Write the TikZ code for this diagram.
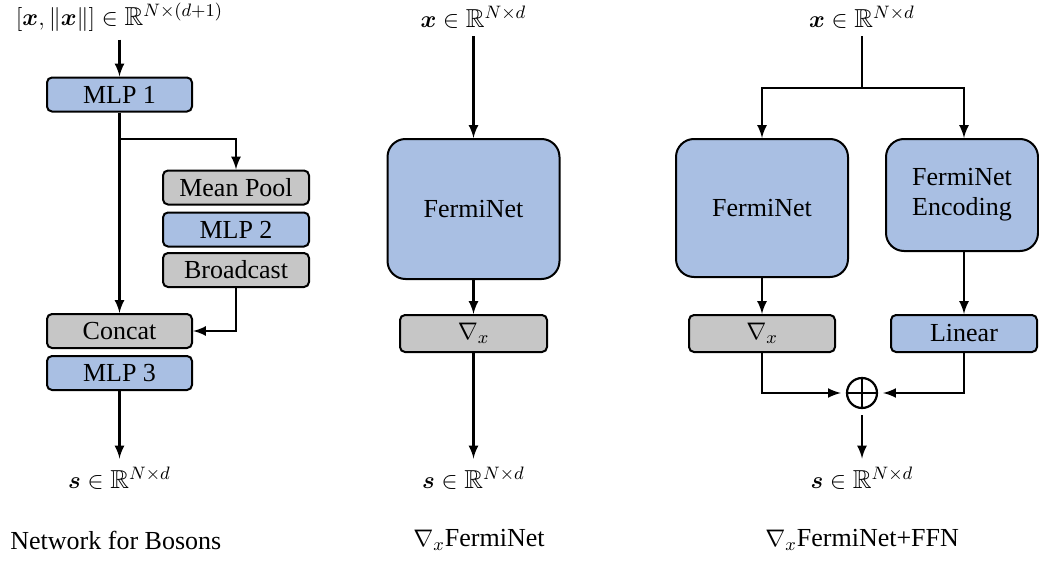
\documentclass[tikz,border=0pt]{standalone}
\usepackage{amsmath}
\usepackage{amssymb}
\usepackage{fontspec}
\setmainfont{LiberationSerif}[Extension=.ttf, UprightFont=*-Regular, BoldFont=*-Bold, ItalicFont=*-Italic, BoldItalicFont=*-BoldItalic]
\usepackage{xcolor}
\usepackage{tikz}
\usetikzlibrary{calc,positioning,arrows}

\definecolor{netblue}{HTML}{A9BFE3}
\definecolor{opgray}{HTML}{C6C6C6}

\begin{document}
\begin{tikzpicture}[x=0.5pt,y=-0.5pt,font=\rmfamily\fontsize{13}{15}\selectfont]

\useasboundingbox (0,0) rectangle (1039,562);

\tikzstyle{mybox} = [draw=black, line width=1pt, rectangle, rounded corners=2.5pt, minimum height=17pt, minimum width=72.5pt, inner sep=0pt]
\tikzstyle{bigbox} = [mybox, rounded corners=9pt, minimum width=86pt, minimum height=70pt, fill=netblue, align=center]
\tikzstyle{myarrow} = [-latex, line width=1.2pt]
\tikzstyle{myline} = [line width=1.2pt]

% left: network for bosons
\node (in1) [inner sep=4pt] at (119.5,17) {$[\boldsymbol{x},\|\boldsymbol{x}\|]\in\mathbb{R}^{N\times(d+1)}$};
\node (mlp1) [mybox,fill=netblue] at (119.5,94.5) {MLP 1};
\node (pool) [mybox,fill=opgray,minimum width=73pt] at (236,187.5) {Mean Pool};
\node (mlp2) [mybox,fill=netblue,minimum width=73pt] at (236,229.5) {MLP 2};
\node (bcast) [mybox,fill=opgray,minimum width=73pt] at (236,270) {Broadcast};
\node (concat) [mybox,fill=opgray] at (119.5,331) {Concat};
\node (mlp3) [mybox,fill=netblue] at (119.5,373) {MLP 3};
\node (out1) [inner sep=4pt] at (119.5,478) {$\boldsymbol{s}\in\mathbb{R}^{N\times d}$};
\coordinate (split1) at (119.5,139);

\draw [myarrow] (in1.south) -- (mlp1.north);
\draw [myarrow] (mlp1.south) -- (concat.north);
\draw [myarrow] (split1) -| (pool.north);
\draw [myarrow] (bcast.south) |- (concat.east);
\draw [myarrow] (mlp3.south) -- (out1.north);

% middle: grad FermiNet
\node (in2) [inner sep=4pt] at (473.5,17) {$\boldsymbol{x}\in\mathbb{R}^{N\times d}$};
\node (fermi1) [bigbox] at (473.5,209) {FermiNet};
\node (grad1) [mybox,fill=opgray,minimum width=73.5pt,minimum height=18.5pt] at (473.5,333.5) {$\nabla_x$};
\node (out2) [inner sep=4pt] at (473.5,478) {$\boldsymbol{s}\in\mathbb{R}^{N\times d}$};

\draw [myarrow] (in2.south) -- (fermi1.north);
\draw [myarrow] (fermi1.south) -- (grad1.north);
\draw [myarrow] (grad1.south) -- (out2.north);

% right: grad FermiNet + FFN
\node (in3) [inner sep=4pt] at (862,17) {$\boldsymbol{x}\in\mathbb{R}^{N\times d}$};
\coordinate (split3) at (862,88);
\node (fermi2) [bigbox,minimum height=69pt] at (762,208) {FermiNet};
\node (enc) [bigbox,minimum width=76pt,minimum height=56pt] at (962,195) {FermiNet\\Encoding};
\node (grad2) [mybox,fill=opgray,minimum width=73pt,minimum height=18.5pt] at (762,333.5) {$\nabla_x$};
\node (linear) [mybox,fill=netblue,minimum width=73pt,minimum height=18.5pt] at (964,333.5) {Linear};
\node (plus) [draw,circle,line width=1.1pt,minimum size=15pt,inner sep=0pt] at (862,393) {};
\draw [line width=1.1pt] (plus.north) -- (plus.south);
\draw [line width=1.1pt] (plus.west) -- (plus.east);
\node (out3) [inner sep=4pt] at (862,478) {$\boldsymbol{s}\in\mathbb{R}^{N\times d}$};

\draw [myline] (in3.south) -- (split3);
\draw [myarrow] (split3) -| (fermi2.north);
\draw [myarrow] (split3) -| (enc.north -| linear.north);
\draw [myarrow] (fermi2.south) -- (grad2.north);
\draw [myarrow] (enc.south -| linear.north) -- (linear.north);
\draw [myarrow,shorten >=2.5pt] (grad2.south) |- (plus.west);
\draw [myarrow,shorten >=2.5pt] (linear.south) |- (plus.east);
\draw [myarrow,shorten <=3pt] (plus.south) -- (out3.north);

% captions
\node (cap1) [anchor=west,inner sep=0pt] at (10,540) {Network for Bosons};
\node (cap2) [anchor=west,inner sep=0pt] at (413,540) {$\nabla_x$FermiNet};
\node (cap3) [anchor=west,inner sep=0pt] at (765,540) {$\nabla_x$FermiNet+FFN};

\end{tikzpicture}
\end{document}
